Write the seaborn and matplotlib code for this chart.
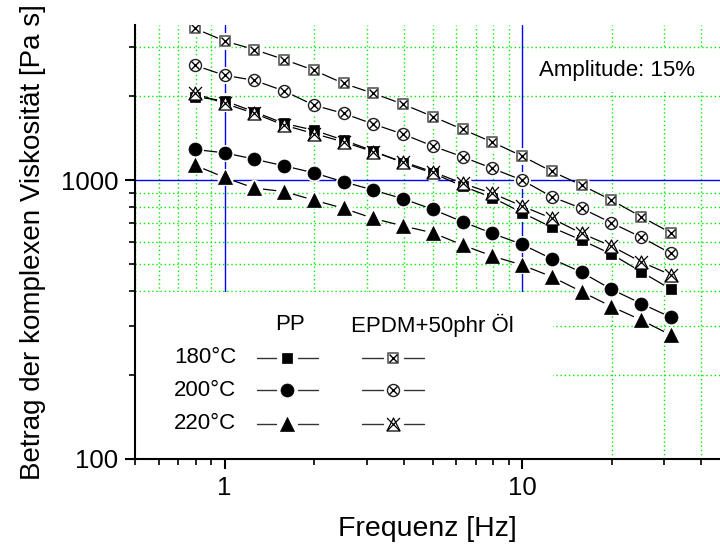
import numpy as np
import pandas as pd
import matplotlib
matplotlib.use("Agg")
import matplotlib.pyplot as plt
import seaborn as sns
from matplotlib.ticker import FuncFormatter, NullFormatter, LogLocator
from matplotlib.patches import Rectangle

# ---------------- data ----------------
freq = [0.794, 1.0, 1.259, 1.585, 1.995, 2.512, 3.162, 3.981, 5.012,
        6.310, 7.943, 10.0, 12.59, 15.85, 19.95, 25.12, 31.62]

pp_180 = [1992, 1925, 1758, 1597, 1511, 1391, 1273, 1153, 1059,
          951, 866, 764, 677, 609, 543, 469, 406]
pp_200 = [1288, 1253, 1189, 1125, 1062, 986, 921, 857, 785,
          709, 644, 588, 522, 467, 406, 361, 322]
pp_220 = [1132, 1022, 936, 910, 848, 792, 729, 685, 647,
          585, 534, 496, 450, 398, 352, 315, 278]
epdm_180 = [3500, 3155, 2940, 2707, 2478, 2222, 2047, 1872, 1690,
            1520, 1368, 1219, 1074, 959, 848, 739, 647]
epdm_200 = [2582, 2377, 2279, 2088, 1857, 1735, 1588, 1462, 1324,
            1212, 1101, 1000, 871, 792, 703, 624, 546]
epdm_220 = [2047, 1884, 1735, 1574, 1469, 1371, 1263, 1163, 1071,
            973, 896, 807, 729, 644, 580, 509, 457]

row_labels = ["180°C", "200°C", "220°C"]
col_labels = ["PP", "EPDM+50phr Öl"]
x_label = "Frequenz [Hz]"
y_label = "Betrag der komplexen Viskosität [Pa s]"
note = "Amplitude: 15%"

series = {"PP 180": pp_180, "PP 200": pp_200, "PP 220": pp_220,
          "EPDM 180": epdm_180, "EPDM 200": epdm_200, "EPDM 220": epdm_220}
df = pd.concat([pd.DataFrame({"f": freq, "eta": v, "series": k})
                for k, v in series.items()], ignore_index=True)

# ---------------- style ----------------
sns.set_theme(style="white")
plt.rcParams["font.family"] = ["Liberation Sans", "DejaVu Sans"]
plt.rcParams["text.color"] = "black"
plt.rcParams["axes.labelcolor"] = "black"
plt.rcParams["xtick.color"] = "black"
plt.rcParams["ytick.color"] = "black"

fig = plt.figure(figsize=(7.2, 5.52), dpi=100)
ax = fig.add_axes([135 / 720, 1 - 459 / 552, 585 / 720, 434 / 552])
ax.set_xscale("log")
ax.set_yscale("log")
ax.set_xlim(0.5, 46.2)
ax.set_ylim(100, 3600)

# grid
ax.set_axisbelow(True)
ax.xaxis.set_minor_locator(LogLocator(base=10, subs=np.arange(2, 10)))
ax.yaxis.set_minor_locator(LogLocator(base=10, subs=np.arange(2, 10)))
ax.grid(True, which="major", color="#0000ff", lw=1.0, ls="-", zorder=0.5)
ax.grid(True, which="minor", color="#00ee00", lw=1.0, ls=(0, (1, 2)), zorder=0.5)

# white box behind the legend
ax.add_patch(Rectangle((0, 0), 0.7145, 0.385, transform=ax.transAxes,
                       facecolor="white", edgecolor="none", zorder=1))

# lines
sns.lineplot(data=df, x="f", y="eta", units="series", estimator=None,
             color="black", lw=0.9, sort=False, legend=False, ax=ax, zorder=2)

# white halos creating gaps around markers
sns.scatterplot(data=df, x="f", y="eta", marker="o", s=150, color="white",
                linewidth=0, legend=False, ax=ax, zorder=3)

px = 1 / 1.389  # pixel -> point
def sz(pixels):
    return (pixels * px) ** 2

def draw_marker(target_ax, x, y, kind, **kw):
    if kind == "pp180":
        sns.scatterplot(x=x, y=y, marker="s", s=sz(11), color="black",
                        edgecolor="black", linewidth=0.5, ax=target_ax, zorder=4, **kw)
    elif kind == "pp200":
        sns.scatterplot(x=x, y=y, marker="o", s=sz(13), color="black",
                        edgecolor="black", linewidth=0.5, ax=target_ax, zorder=4, **kw)
    elif kind == "pp220":
        sns.scatterplot(x=x, y=y, marker="^", s=sz(14), color="black",
                        edgecolor="black", linewidth=0.5, ax=target_ax, zorder=4, **kw)
    elif kind == "epdm180":
        sns.scatterplot(x=x, y=y, marker="s", s=sz(11), color="white",
                        edgecolor="#666666", linewidth=1.3, ax=target_ax, zorder=4, **kw)
        sns.scatterplot(x=x, y=y, marker="x", s=sz(8), color="black",
                        linewidth=1.0, ax=target_ax, zorder=5, **kw)
    elif kind == "epdm200":
        sns.scatterplot(x=x, y=y, marker="o", s=sz(12), color="white",
                        edgecolor="#222222", linewidth=1.0, ax=target_ax, zorder=4, **kw)
        sns.scatterplot(x=x, y=y, marker="x", s=sz(8), color="black",
                        linewidth=1.0, ax=target_ax, zorder=5, **kw)
    elif kind == "epdm220":
        sns.scatterplot(x=x, y=y, marker="^", s=sz(13), color="white",
                        edgecolor="black", linewidth=0.9, ax=target_ax, zorder=4, **kw)
        sns.scatterplot(x=x, y=y, marker="x", s=sz(13), color="black",
                        linewidth=0.9, ax=target_ax, zorder=5, **kw)

kinds = {"PP 180": "pp180", "PP 200": "pp200", "PP 220": "pp220",
         "EPDM 180": "epdm180", "EPDM 200": "epdm200", "EPDM 220": "epdm220"}
for name, vals in series.items():
    draw_marker(ax, freq, vals, kinds[name], legend=False)

# ---------------- axes cosmetics ----------------
for s in ["top", "right"]:
    ax.spines[s].set_visible(False)
for s in ["left", "bottom"]:
    ax.spines[s].set_color("black")
    ax.spines[s].set_linewidth(1.5)
    ax.spines[s].set_zorder(6)

fmt = FuncFormatter(lambda v, p: f"{v:g}")
ax.xaxis.set_major_formatter(fmt)
ax.yaxis.set_major_formatter(fmt)
ax.xaxis.set_minor_formatter(NullFormatter())
ax.yaxis.set_minor_formatter(NullFormatter())
ax.tick_params(which="major", direction="out", length=7, width=1.5,
               color="black", labelcolor="black", labelsize=18.5, pad=5,
               bottom=True, left=True)
ax.tick_params(which="minor", direction="out", length=4.5, width=1.2,
               color="black", bottom=True, left=True)

ax.set_xlabel(x_label, fontsize=20.5, labelpad=12, color="black")
ax.set_ylabel(y_label, fontsize=20, labelpad=11, color="black")

ax.text(0.69, 0.895, note, transform=ax.transAxes, fontsize=16,
        va="center", ha="left", zorder=7, color="black",
        bbox=dict(facecolor="white", edgecolor="none", pad=8))

# ---------------- manual legend ----------------
def fx(p):
    return (p - 135) / 585

def fy(p):
    return (459 - p) / 434

ax.text(fx(290), fy(325), col_labels[0], transform=ax.transAxes,
        fontsize=16, ha="center", va="center", zorder=7, color="black")
ax.text(fx(351), fy(325), col_labels[1], transform=ax.transAxes,
        fontsize=16, ha="left", va="center", zorder=7, color="black")

rows_y = [357.5, 390, 423.5]
pp_kinds = ["pp180", "pp200", "pp220"]
ep_kinds = ["epdm180", "epdm200", "epdm220"]
for lab, yy in zip(row_labels, rows_y):
    ax.text(fx(205), fy(yy), lab, transform=ax.transAxes, fontsize=16,
            ha="center", va="center", zorder=7, color="black")
    for (a, b) in [(256.5, 276), (298, 318), (362, 383), (403.5, 424)]:
        ax.plot([fx(a), fx(b)], [fy(yy), fy(yy)], transform=ax.transAxes,
                color="#333333", lw=1.0, zorder=7, clip_on=False)

leg_ax = fig.add_axes(ax.get_position(), frameon=False)
leg_ax.set_xlim(0, 1)
leg_ax.set_ylim(0, 1)
leg_ax.set_xticks([])
leg_ax.set_yticks([])
leg_ax.grid(False)
for yy, k1, k2 in zip(rows_y, pp_kinds, ep_kinds):
    draw_marker(leg_ax, [fx(287)], [fy(yy)], k1, legend=False)
    draw_marker(leg_ax, [fx(393)], [fy(yy)], k2, legend=False)
leg_ax.set_xlabel("")
leg_ax.set_ylabel("")

fig.savefig("out.png", dpi=100)
